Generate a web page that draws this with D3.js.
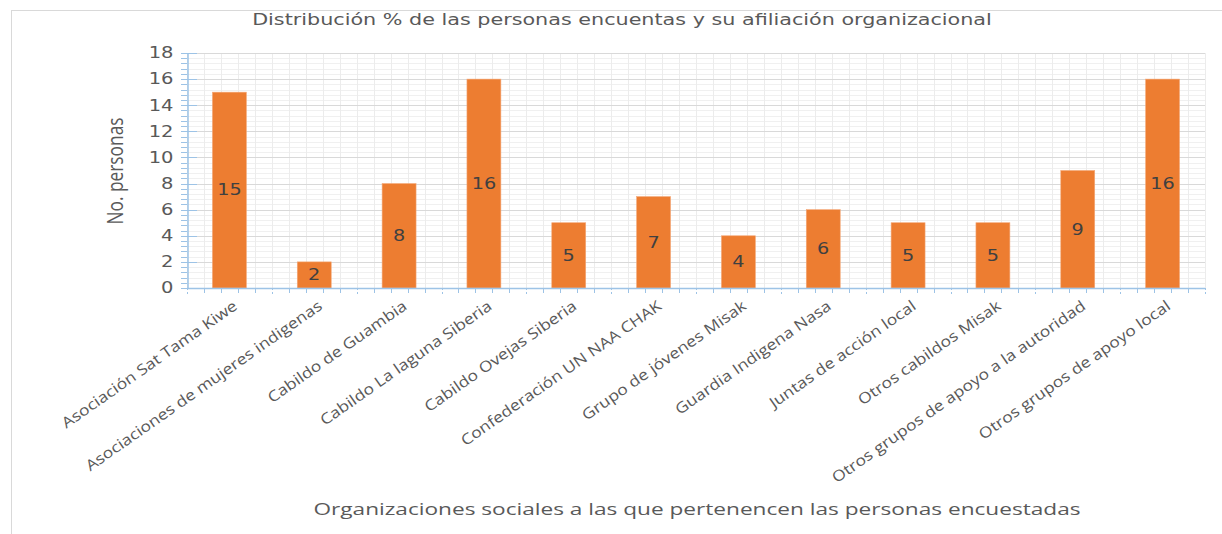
<!DOCTYPE html>
<html>
  <head>
    <title>Afiliación organizacional</title>
    <script src="https://d3js.org/d3.v7.min.js"></script>
  </head>
  <style>
    body {
      margin: 0;
      background-color: #fff;
    }
  </style>
  <body>
    <svg></svg>
    <script>

      var categories = [
        "Asociación Sat Tama Kiwe",
        "Asociaciones de mujeres indigenas",
        "Cabildo de Guambia",
        "Cabildo La laguna Siberia",
        "Cabildo Ovejas Siberia",
        "Confederación UN NAA CHAK",
        "Grupo de jóvenes Misak",
        "Guardia Indigena Nasa",
        "Juntas de acción local",
        "Otros cabildos Misak",
        "Otros grupos de apoyo a la autoridad",
        "Otros grupos de apoyo local"
      ];
      var personas = [15, 2, 8, 16, 5, 7, 4, 6, 5, 5, 9, 16];
      var yTicks = [0, 2, 4, 6, 8, 10, 12, 14, 16, 18];

      var title = "Distribución % de las personas encuentas y su afiliación organizacional";
      var yTitle = "No. personas";
      var xTitle = "Organizaciones sociales a las que pertenencen las personas encuestadas";

      var width = 1222;
      var height = 534;
      // plot area (note: "top" is taken by window.top)
      var plotLeft = 187, plotRight = 1205, plotTop = 53, plotBottom = 288;

      var gray = "#595959";
      var axisBlue = "#9dc3e6";

      var svg = d3.select('svg')
        .attr('width', width)
        .attr('height', height);

      var x = d3.scaleBand()
        .domain(categories)
        .range([plotLeft, plotRight])
        .paddingInner(0.6)
        .paddingOuter(0.3);

      var y = d3.scaleLinear()
        .domain([0, 18])
        .range([plotBottom, plotTop]);

      // stretch text horizontally, the source picture is wide
      function stretch(sel, k) {
        sel.each(function () {
          var len = this.getComputedTextLength();
          d3.select(this)
            .attr('textLength', len * k)
            .attr('lengthAdjust', 'spacingAndGlyphs');
        });
      }

      function py(d) { return Math.round(y(d)) + 0.5; }

      // frame
      svg.append('line')
        .attr('x1', 11.5).attr('x2', 11.5).attr('y1', 10).attr('y2', height)
        .style('stroke', '#d9d9d9');
      svg.append('line')
        .attr('x1', 11).attr('x2', width).attr('y1', 10.5).attr('y2', 10.5)
        .style('stroke', '#d9d9d9');

      // minor grid
      var minorY = d3.range(0, 18.001, 0.4);
      svg.append('g').selectAll('line')
        .data(minorY)
        .enter().append('line')
        .attr('x1', plotLeft).attr('x2', plotRight)
        .attr('y1', py).attr('y2', py)
        .style('stroke', '#f0f0f0');

      var step = x.step();
      var minorX = d3.range(0, categories.length * 5 + 1).map(function (i) { return plotLeft + i * step / 5; });
      svg.append('g').selectAll('line')
        .data(minorX)
        .enter().append('line')
        .attr('x1', function (d) { return Math.round(d) + 0.5; })
        .attr('x2', function (d) { return Math.round(d) + 0.5; })
        .attr('y1', plotTop).attr('y2', plotBottom)
        .style('stroke', '#ececec');

      // major grid
      svg.append('g').selectAll('line')
        .data(yTicks)
        .enter().append('line')
        .attr('x1', plotLeft).attr('x2', plotRight)
        .attr('y1', py).attr('y2', py)
        .style('stroke', '#d9d9d9');

      // bars
      svg.append('g').selectAll('rect')
        .data(personas)
        .enter().append('rect')
        .attr('x', function (d, i) { return x(categories[i]); })
        .attr('y', function (d) { return y(d); })
        .attr('width', x.bandwidth())
        .attr('height', function (d) { return y(0) - y(d); })
        .style('fill', '#ed7d31')
        .style('stroke', '#f4a878')
        .style('stroke-width', 0.6);

      // value labels
      svg.append('g').selectAll('text')
        .data(personas)
        .enter().append('text')
        .attr('x', function (d, i) { return x(categories[i]) + x.bandwidth() / 2; })
        .attr('y', function (d) { return y(d / 2); })
        .attr('dy', '0.36em')
        .attr('text-anchor', 'middle')
        .style('font-family', 'DejaVu Sans')
        .style('font-size', '15px')
        .style('fill', '#404040')
        .text(function (d) { return d; })
        .call(stretch, 1.28);

      // y axis
      var yAxis = svg.append('g')
        .attr('transform', 'translate(' + (plotLeft + 0.5) + ',0)')
        .call(d3.axisLeft(y).tickValues(yTicks).tickSize(0).tickPadding(14));
      yAxis.select('.domain').style('stroke', axisBlue).style('stroke-width', 1.5);
      yAxis.selectAll('text')
        .style('font-family', 'DejaVu Sans')
        .style('font-size', '15px')
        .style('fill', gray)
        .call(stretch, 1.3);

      svg.append('g').selectAll('line')
        .data(minorY)
        .enter().append('line')
        .attr('x1', plotLeft - 6).attr('x2', plotLeft)
        .attr('y1', py).attr('y2', py)
        .style('stroke', axisBlue);
      svg.append('g').selectAll('line')
        .data(yTicks)
        .enter().append('line')
        .attr('x1', plotLeft).attr('x2', plotLeft + 10)
        .attr('y1', py).attr('y2', py)
        .style('stroke', axisBlue);

      // x axis
      svg.append('line')
        .attr('x1', plotLeft).attr('x2', plotRight)
        .attr('y1', plotBottom + 0.5).attr('y2', plotBottom + 0.5)
        .style('stroke', axisBlue)
        .style('stroke-width', 1.5);
      svg.append('g').selectAll('line')
        .data(minorX)
        .enter().append('line')
        .attr('x1', function (d) { return Math.round(d) + 0.5; })
        .attr('x2', function (d) { return Math.round(d) + 0.5; })
        .attr('y1', plotBottom).attr('y2', function (d, i) { return i % 5 ? plotBottom + 5 : plotBottom + 8; })
        .style('stroke', axisBlue)
        .style('stroke-dasharray', function (d, i) { return i % 5 ? null : '2,2'; });

      svg.append('g').selectAll('text')
        .data(categories)
        .enter().append('text')
        .attr('transform', function (d) {
          return 'translate(' + (x(d) + x.bandwidth() / 2 + 6) + ',' + (plotBottom + 16) + ')rotate(-35)';
        })
        .attr('text-anchor', 'end')
        .attr('dy', '0.35em')
        .style('font-family', 'Open Sans')
        .style('font-size', '15px')
        .style('fill', gray)
        .text(function (d) { return d; })
        .call(stretch, 1.17);

      // titles
      svg.append('text')
        .attr('x', 622)
        .attr('y', 25)
        .attr('text-anchor', 'middle')
        .style('font-family', 'DejaVu Sans')
        .style('font-size', '15px')
        .style('fill', gray)
        .text(title)
        .call(stretch, 1.38);

      svg.append('text')
        .attr('transform', 'translate(123,171)rotate(-90)')
        .attr('text-anchor', 'middle')
        .attr('textLength', 107)
        .attr('lengthAdjust', 'spacingAndGlyphs')
        .style('font-family', 'Open Sans')
        .style('font-size', '21px')
        .style('fill', gray)
        .text(yTitle);

      svg.append('text')
        .attr('x', 697)
        .attr('y', 515)
        .attr('text-anchor', 'middle')
        .attr('textLength', 767)
        .attr('lengthAdjust', 'spacingAndGlyphs')
        .style('font-family', 'Open Sans')
        .style('font-size', '16px')
        .style('fill', gray)
        .text(xTitle);

    </script>
  </body>
</html>
